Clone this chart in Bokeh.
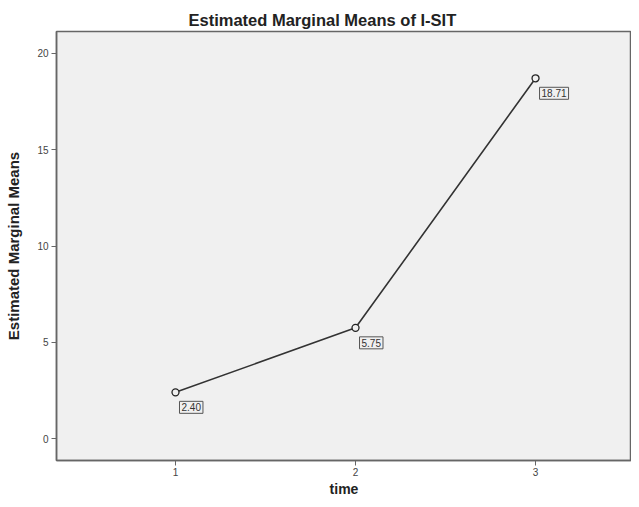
from bokeh.plotting import figure
from bokeh.models import ColumnDataSource, Label, Range1d, FixedTicker
from bokeh.embed import file_html
from bokeh.resources import INLINE

time = [1, 2, 3]
means = [2.40, 5.75, 18.71]
labels = ["2.40", "5.75", "18.71"]
y_ticks = [0, 5, 10, 15, 20]

src = ColumnDataSource(dict(x=time, y=means, label=labels))

p = figure(width=631, height=499, output_backend="svg", toolbar_location=None,
           x_range=Range1d(0.339, 3.533), y_range=Range1d(-1.14, 21.14),
           min_border_left=56, min_border_right=0, min_border_top=31, min_border_bottom=39)

p.title.text = "Estimated Marginal Means of I-SIT"
p.title.text_font = "Liberation Sans"
p.title.text_font_size = "16.5px"
p.title.text_font_style = "bold"
p.title.text_color = "#222222"
p.title.align = "left"
p.title.offset = 132
p.title.standoff = 6

p.background_fill_color = "#f0f0f0"
p.border_fill_color = "white"
p.outline_line_color = "#666666"
p.outline_line_width = 1.5
p.xgrid.visible = False
p.ygrid.visible = False

p.line("x", "y", source=src, line_color="#333333", line_width=1.6)
p.scatter("x", "y", source=src, marker="circle", size=7, fill_color="#f0f0f0",
          line_color="#222222", line_width=1.3)

for xv, yv, t in zip(time, means, labels):
    p.add_layout(Label(x=xv, y=yv, text=t, x_offset=4, y_offset=-9,
                       text_font="Liberation Sans", text_font_size="10px", text_color="#333333",
                       text_baseline="top", text_align="left",
                       border_line_color="#555555", border_line_width=1,
                       background_fill_color="#f0f0f0", padding=2))

for ax in (p.xaxis, p.yaxis):
    ax.axis_line_color = "#666666"
    ax.axis_line_width = 1.5
    ax.major_tick_line_color = "#666666"
    ax.major_tick_out = 5
    ax.major_tick_in = 0
    ax.minor_tick_line_color = None
    ax.major_label_text_font = "Liberation Sans"
    ax.major_label_text_font_size = "10px"
    ax.major_label_text_color = "#444444"
    ax.axis_label_text_font = "Liberation Sans"
    ax.axis_label_text_font_style = "bold"
    ax.axis_label_text_color = "#222222"

p.xaxis.axis_label_text_font_size = "14px"
p.yaxis.axis_label_text_font_size = "15px"
p.xaxis.ticker = FixedTicker(ticks=time)
p.yaxis.ticker = FixedTicker(ticks=y_ticks)
p.xaxis.axis_label = "time"
p.yaxis.axis_label = "Estimated Marginal Means"
p.xaxis.major_label_standoff = 2
p.xaxis.axis_label_standoff = 2
p.yaxis.major_label_standoff = 3
p.yaxis.axis_label_standoff = 12

open("out.html", "w").write(file_html(p, INLINE))
